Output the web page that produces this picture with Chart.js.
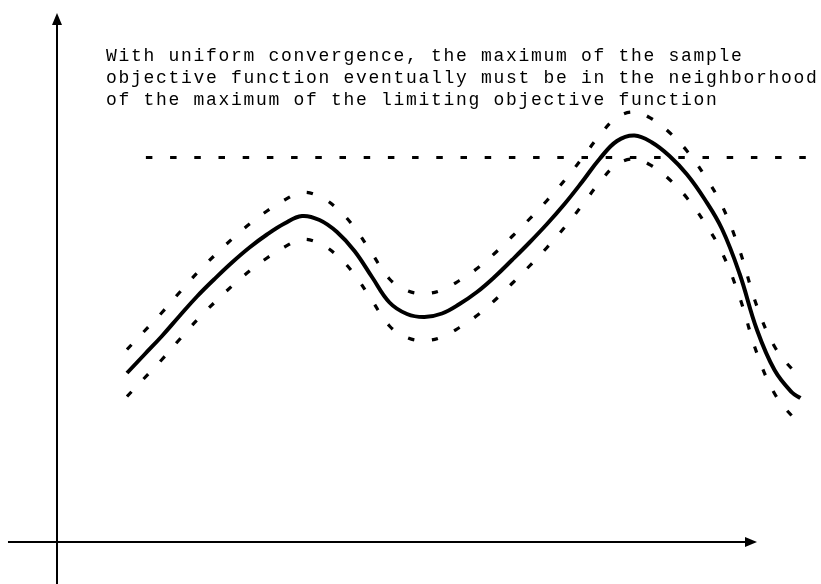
<!DOCTYPE html>
<html>
<head>
<meta charset="utf-8">
<script src="https://cdn.jsdelivr.net/npm/chart.js@4/dist/chart.umd.min.js"></script>
<style>
  html, body { margin: 0; padding: 0; background: #fff; overflow: hidden; }
  #wrap { position: relative; width: 821px; height: 584px; }
</style>
</head>
<body>
<div id="wrap"><canvas id="c"></canvas></div>
<script>
// Sample points along the horizontal axis
const xs = [1.0, 1.25, 1.5, 1.75, 2.0, 2.25, 2.5, 2.75, 3.0, 3.25, 3.5, 3.75, 4.0, 4.25,
            4.5, 4.75, 5.0, 5.25, 5.5, 5.75, 6.0, 6.25, 6.5, 6.75, 7.0, 7.25, 7.5, 7.75,
            8.0, 8.25, 8.5, 8.75, 9.0, 9.25, 9.5, 9.75, 10.0, 10.25, 10.5, 10.62];

// Limiting objective function (solid curve)
const limitingObjective = [3.38, 3.75, 4.12, 4.52, 4.91, 5.26, 5.59, 5.89, 6.15, 6.37, 6.52, 6.44, 6.20, 5.82,
                           5.30, 4.79, 4.56, 4.50, 4.57, 4.76, 5.00, 5.30, 5.64, 5.99, 6.36, 6.76, 7.20, 7.66,
                           8.02, 8.13, 7.99, 7.72, 7.35, 6.86, 6.26, 5.37, 4.24, 3.44, 2.99, 2.88];

// Uniform band around it (dotted curves)
const bandUpper = [3.85, 4.22, 4.59, 4.99, 5.38, 5.73, 6.06, 6.36, 6.62, 6.84, 6.99, 6.91, 6.67, 6.29,
                   5.77, 5.26, 5.03, 4.97, 5.04, 5.23, 5.47, 5.77, 6.11, 6.46, 6.83, 7.23, 7.67, 8.13,
                   8.49, 8.60, 8.46, 8.19, 7.82, 7.33, 6.73, 5.84, 4.71, 3.91, 3.46, 3.35];
const bandLower = [2.91, 3.28, 3.65, 4.05, 4.44, 4.79, 5.12, 5.42, 5.68, 5.90, 6.05, 5.97, 5.73, 5.35,
                   4.83, 4.32, 4.09, 4.03, 4.10, 4.29, 4.53, 4.83, 5.17, 5.52, 5.89, 6.29, 6.73, 7.19,
                   7.55, 7.66, 7.52, 7.25, 6.88, 6.39, 5.79, 4.90, 3.77, 2.97, 2.52, 2.41];

// Threshold level (horizontal dotted line)
const thresholdX = [1.27, 11.2];
const thresholdY = [7.69, 7.69];

// Annotation text
const noteLines = [
  "With uniform convergence, the maximum of the sample",
  "objective function eventually must be in the neighborhood",
  "of the maximum of the limiting objective function"
];

// Axis extents (data units)
const xAxisRange = [-0.7, 10.0];
const yAxisRange = [-0.9, 10.58];

const toPoints = (xv, yv) => xv.map((x, i) => ({ x: x, y: yv[i] }));

const dotted = [6.5, 17.7];

const axesAndNote = {
  id: 'axesAndNote',
  afterDatasetsDraw(chart) {
    const ctx = chart.ctx;
    const sx = chart.scales.x, sy = chart.scales.y;
    const x0 = Math.round(sx.getPixelForValue(0));
    const y0 = Math.round(sy.getPixelForValue(0));
    ctx.save();
    ctx.strokeStyle = '#000';
    ctx.fillStyle = '#000';
    ctx.lineWidth = 2;
    ctx.setLineDash([]);

    // horizontal axis with arrow head
    const xa = sx.getPixelForValue(xAxisRange[0]);
    const xb = sx.getPixelForValue(xAxisRange[1]);
    ctx.beginPath();
    ctx.moveTo(xa, y0);
    ctx.lineTo(xb - 10, y0);
    ctx.stroke();
    ctx.beginPath();
    ctx.moveTo(xb, y0);
    ctx.lineTo(xb - 12, y0 - 5);
    ctx.lineTo(xb - 12, y0 + 5);
    ctx.closePath();
    ctx.fill();

    // vertical axis with arrow head
    const ya = sy.getPixelForValue(yAxisRange[0]);
    const yb = sy.getPixelForValue(yAxisRange[1]);
    ctx.beginPath();
    ctx.moveTo(x0, ya);
    ctx.lineTo(x0, yb + 10);
    ctx.stroke();
    ctx.beginPath();
    ctx.moveTo(x0, yb);
    ctx.lineTo(x0 - 5, yb + 12);
    ctx.lineTo(x0 + 5, yb + 12);
    ctx.closePath();
    ctx.fill();

    // note text
    ctx.font = '18px "Liberation Mono", "DejaVu Sans Mono", monospace';
    ctx.letterSpacing = '1.7px';
    ctx.textBaseline = 'alphabetic';
    ctx.textAlign = 'left';
    const tx = sx.getPixelForValue(0.7);
    noteLines.forEach((line, i) => {
      ctx.fillText(line, tx, 61 + i * 22);
    });
    ctx.restore();
  }
};

const curveStyle = { pointRadius: 0, tension: 0.4, fill: false, borderColor: '#000' };

new Chart(document.getElementById('c'), {
  type: 'line',
  data: {
    datasets: [
      Object.assign({ data: toPoints(xs, limitingObjective), borderWidth: 4 }, curveStyle),
      Object.assign({ data: toPoints(xs, bandUpper), borderWidth: 3.2, borderDash: dotted, borderCapStyle: 'butt' }, curveStyle),
      Object.assign({ data: toPoints(xs, bandLower), borderWidth: 3.2, borderDash: dotted, borderCapStyle: 'butt' }, curveStyle),
      {
        data: toPoints(thresholdX, thresholdY),
        borderColor: '#000', borderWidth: 3, borderDash: dotted, borderCapStyle: 'butt',
        pointRadius: 0, tension: 0, fill: false
      }
    ]
  },
  options: {
    responsive: true,
    maintainAspectRatio: false,
    animation: false,
    layout: { padding: 0 },
    plugins: { legend: { display: false }, tooltip: { enabled: false } },
    scales: {
      x: { type: 'linear', min: -0.814, max: 10.914, display: false },
      y: { type: 'linear', min: -0.84, max: 10.84, display: false }
    }
  },
  plugins: [axesAndNote]
});
</script>
</body>
</html>
